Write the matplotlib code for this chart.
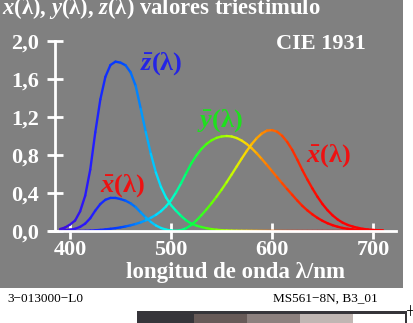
import numpy as np
import matplotlib
matplotlib.use("Agg")
import matplotlib.pyplot as plt
from matplotlib.collections import LineCollection
from matplotlib.colors import LinearSegmentedColormap
from matplotlib.patches import Rectangle

plt.rcParams['mathtext.fontset'] = 'custom'
plt.rcParams['mathtext.rm'] = 'Liberation Serif:bold'
plt.rcParams['mathtext.it'] = 'Liberation Serif:bold:italic'
plt.rcParams['mathtext.bf'] = 'Liberation Serif:bold'

# CIE 1931 colour matching functions (5 nm steps)
wavelength = list(range(390, 715, 5))
x_bar = [0.004243, 0.007650, 0.014310, 0.023190, 0.043510, 0.077630, 0.134380,
         0.214770, 0.283900, 0.328500, 0.348280, 0.348060, 0.336200, 0.318700,
         0.290800, 0.251100, 0.195360, 0.142100, 0.095640, 0.057950, 0.032010,
         0.014700, 0.004900, 0.002400, 0.009300, 0.029100, 0.063270, 0.109600,
         0.165500, 0.225750, 0.290400, 0.359700, 0.433450, 0.512050, 0.594500,
         0.678400, 0.762100, 0.842500, 0.916300, 0.978600, 1.026300, 1.056700,
         1.062200, 1.045600, 1.002600, 0.938400, 0.854450, 0.751400, 0.642400,
         0.541900, 0.447900, 0.360800, 0.283500, 0.218700, 0.164900, 0.121200,
         0.087400, 0.063600, 0.046770, 0.032900, 0.022700, 0.015840, 0.011359,
         0.008111, 0.005790]
y_bar = [0.000120, 0.000217, 0.000396, 0.000640, 0.001210, 0.002180, 0.004000,
         0.007300, 0.011600, 0.016840, 0.023000, 0.029800, 0.038000, 0.048000,
         0.060000, 0.073900, 0.090980, 0.112600, 0.139020, 0.169300, 0.208020,
         0.258600, 0.323000, 0.407300, 0.503000, 0.608200, 0.710000, 0.793200,
         0.862000, 0.914850, 0.954000, 0.980300, 0.994950, 1.000000, 0.995000,
         0.978600, 0.952000, 0.915400, 0.870000, 0.816300, 0.757000, 0.694900,
         0.631000, 0.566800, 0.503000, 0.441200, 0.381000, 0.321000, 0.265000,
         0.217000, 0.175000, 0.138200, 0.107000, 0.081600, 0.061000, 0.044580,
         0.032000, 0.023200, 0.017000, 0.011920, 0.008210, 0.005723, 0.004102,
         0.002929, 0.002091]
z_bar = [0.020050, 0.036210, 0.067850, 0.110200, 0.207400, 0.371300, 0.645600,
         1.039050, 1.385600, 1.622960, 1.747060, 1.782600, 1.772110, 1.744100,
         1.669200, 1.528100, 1.287640, 1.041900, 0.812950, 0.616200, 0.465180,
         0.353300, 0.272000, 0.212300, 0.158200, 0.111700, 0.078250, 0.057250,
         0.042160, 0.029840, 0.020300, 0.013400, 0.008750, 0.005750, 0.003900,
         0.002750, 0.002100, 0.001800, 0.001650, 0.001400, 0.001100, 0.001000,
         0.000800, 0.000600, 0.000340, 0.000240, 0.000190, 0.000100, 0.000050,
         0.000030, 0.000020, 0.000010, 0.0, 0.0, 0.0, 0.0, 0.0, 0.0, 0.0, 0.0,
         0.0, 0.0, 0.0, 0.0, 0.0]
x_ticks = [400, 500, 600, 700]
y_ticks = [0.0, 0.4, 0.8, 1.2, 1.6, 2.0]
y_ticklabels = ['0,0', '0,4', '0,8', '1,2', '1,6', '2,0']

# spectral colour stops (wavelength -> colour)
stops = [(390, (0.25, 0.05, 0.85)), (420, (0.15, 0.10, 1.0)), (450, (0.0, 0.25, 1.0)),
         (470, (0.0, 0.55, 1.0)), (490, (0.0, 0.90, 1.0)), (500, (0.0, 1.0, 0.85)),
         (520, (0.0, 1.0, 0.3)), (540, (0.35, 1.0, 0.0)), (560, (0.75, 1.0, 0.0)),
         (575, (1.0, 0.85, 0.0)), (595, (1.0, 0.5, 0.0)), (620, (1.0, 0.2, 0.0)),
         (650, (1.0, 0.0, 0.0)), (710, (1.0, 0.0, 0.0))]
lo, hi = 390, 710
cmap = LinearSegmentedColormap.from_list(
    'spec', [((w - lo) / (hi - lo), c) for w, c in stops])

W, H = 413, 323
fig = plt.figure(figsize=(W / 100, H / 100), dpi=100)
fig.patch.set_facecolor('white')
fig.patches.append(Rectangle((0, (H - 288) / H), 403 / W, 288 / H,
                             transform=fig.transFigure, facecolor='#808080',
                             edgecolor='none', zorder=-10))

ax = fig.add_axes([55 / W, (H - 231) / H, (396 - 55) / W, (231 - 41) / H])
ax.set_zorder(5)
ax.set_facecolor('none')
ax.set_xlim(385.1, 722.8)
ax.set_ylim(0, 2.0)

wl = np.array(wavelength, dtype=float)
mid = (wl[:-1] + wl[1:]) / 2
for series in (z_bar, x_bar, y_bar):
    s = np.array(series)
    pts = np.column_stack([wl, s]).reshape(-1, 1, 2)
    segs = np.concatenate([pts[:-1], pts[1:]], axis=1)
    lc = LineCollection(segs, colors=cmap((mid - lo) / (hi - lo)), linewidths=1.7,
                        capstyle='round', joinstyle='round', clip_on=False)
    ax.add_collection(lc)

for side in ('top', 'right'):
    ax.spines[side].set_visible(False)
ax.spines['left'].set_color('white')
ax.spines['left'].set_linewidth(2)
ax.spines['bottom'].set_color('white')
ax.spines['bottom'].set_linewidth(2)
ax.spines['bottom'].set_bounds(380.0, 722.8)

tick_font = dict(family='Liberation Serif', weight='bold', size=16)
ax.set_xticks(x_ticks)
ax.set_xticklabels([str(t) for t in x_ticks], color='white', **tick_font)
ax.set_yticks(y_ticks)
ax.set_yticklabels(y_ticklabels, color='white', **tick_font)
ax.tick_params(axis='both', colors='white', direction='inout', length=11, width=2)
ax.tick_params(axis='x', pad=1)
ax.tick_params(axis='y', pad=6)

serif_b = dict(family='Liberation Serif', weight='bold')
fig.text(235 / W, 1 - 278 / H, 'longitud de onda λ/nm', color='white', size=16.5,
         ha='center', va='baseline', **serif_b)
fig.text(2 / W, 1 - 14 / H, r'$x$(λ), $y$(λ), $z$(λ) valores triestimulo',
         color='white', size=16.3, va='baseline', **serif_b)
fig.text(366 / W, 1 - 49 / H, 'CIE 1931', color='white', size=16, ha='right',
         va='baseline', **serif_b)

lab = dict(family='Liberation Serif', weight='bold', size=19)
ax.text(469.3, 1.695, r'$\bar{z}$(λ)', color='#2424e6', ha='left', va='baseline', **lab)
ax.text(525.7, 1.095, r'$\bar{y}$(λ)', color='#1ee01e', ha='left', va='baseline', **lab)
ax.text(633.7, 0.726, r'$\bar{x}$(λ)', color='#ee1111', ha='left', va='baseline', **lab)
ax.text(429.7, 0.41, r'$\bar{x}$(λ)', color='#ee1111', ha='left', va='baseline', **lab)

foot = dict(family='Liberation Serif', size=9.5, color='black')
fig.text(7 / W, 1 - 302 / H, '3−013000−L0', **foot)
fig.text(378 / W, 1 - 302 / H, 'MS561−8N, B3_01', ha='right', **foot)

# bottom grey scale strip
strip = [(137, 194, '#36353a'), (194, 247, '#675a58'), (247, 300, '#8c807e'),
         (300, 353, '#c0b6b3'), (353, 405, '#ffffff')]
for x0, x1, c in strip:
    fig.patches.append(Rectangle((x0 / W, 0), (x1 - x0) / W, (323 - 311) / H,
                                 transform=fig.transFigure, facecolor=c,
                                 edgecolor='none', zorder=1))
fig.patches.append(Rectangle((137 / W, (323 - 314) / H), (407 - 137) / W, 3 / H,
                             transform=fig.transFigure, facecolor='#36353a',
                             edgecolor='none', zorder=2))
fig.patches.append(Rectangle((404.5 / W, 0), 2.5 / W, (323 - 311) / H,
                             transform=fig.transFigure, facecolor='#36353a',
                             edgecolor='none', zorder=2))
fig.lines.append(plt.Line2D([407 / W, 413 / W], [1 - 310 / H, 1 - 310 / H],
                            transform=fig.transFigure, color='black', lw=0.6))
fig.lines.append(plt.Line2D([410 / W, 410 / W], [1 - 305 / H, 1 - 315 / H],
                            transform=fig.transFigure, color='black', lw=0.6))

fig.savefig('out.png', dpi=100, facecolor='white')
